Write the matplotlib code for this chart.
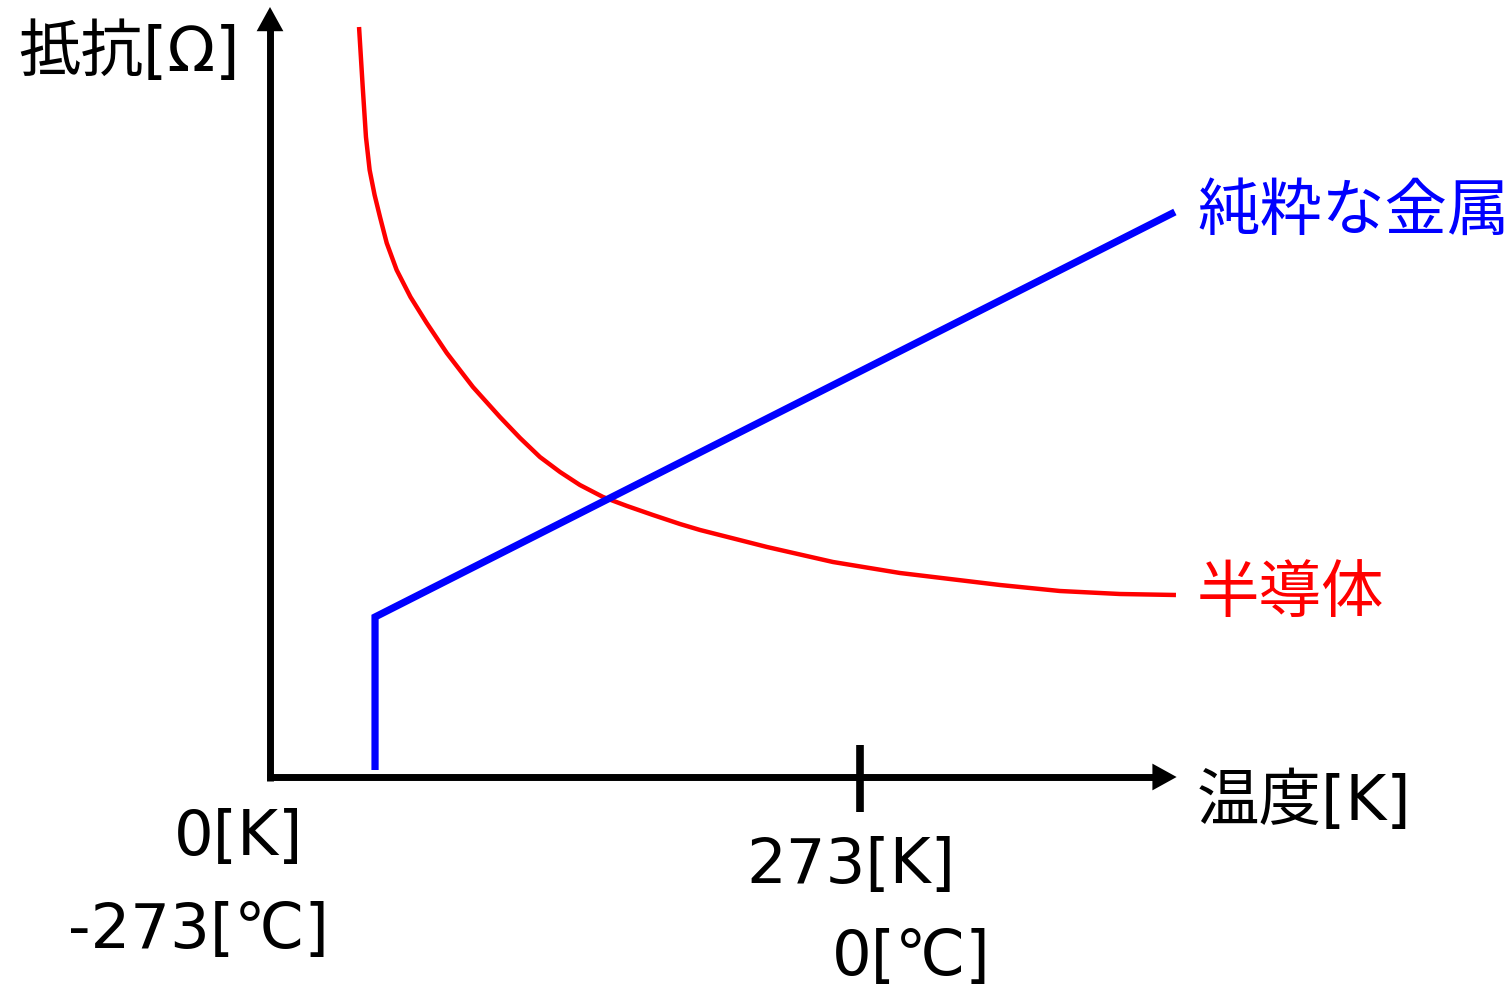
import numpy as np
import matplotlib
matplotlib.use("Agg")
import matplotlib.pyplot as plt

plt.rcParams['font.family'] = ['DejaVu Sans', 'Noto Sans CJK JP']

# 半導体 (semiconductor) resistance curve, temperature [K] vs arbitrary resistance
semi_T = [41.2, 42.9, 44.4, 46.1, 48.4, 50.9, 54.0, 58.6, 65.0, 72.5, 81.8,
          93.9, 106.4, 115.7, 124.9, 134.2, 143.4, 154.1, 165.2, 177.2, 189.7,
          199.0, 230.0, 260.5, 291.5, 337.8, 365.5, 393.3, 419.2]
semi_R = [748, 688, 638, 605, 580, 558, 532, 505, 478, 452, 422,
          388, 358, 337, 318, 303, 290, 278, 269, 260, 251,
          245, 228, 213, 202, 190, 184, 181, 180]

# 純粋な金属 (pure metal)
metal_T = [48.6, 48.6, 418.7]
metal_R = [5, 158, 563]

T_end = 419.5     # x-axis arrow tip
R_end = 768       # y-axis arrow tip
tick_T = 273

# pixel -> data helper (for label placement only)
def p2d(px, py):
    return (px - 270) * 273 / 590, 775 - py

fig = plt.figure(figsize=(15.09, 9.9), dpi=100)
ax = fig.add_axes([0, 0, 1, 1])
x0, y0 = p2d(0, 990)
x1, y1 = p2d(1509, 0)
ax.set_xlim(x0, x1)
ax.set_ylim(y0, y1)
ax.axis('off')

# axes lines + filled arrow heads
head_T = 23 * 273 / 590
head_R = 23
ax.plot([0, 0], [-5.5, R_end - head_R + 1], color='black', lw=5, solid_capstyle='butt')
ax.plot([-1.2, T_end - head_T + 0.5], [-2, -2], color='black', lw=5, solid_capstyle='butt')
head = dict(arrowstyle='-|>,head_length=1.05,head_width=0.58', lw=0,
            color='black', mutation_scale=16.6, shrinkA=0, shrinkB=0)
ax.annotate('', xy=(0, R_end), xytext=(0, R_end - 60), arrowprops=head)
ax.annotate('', xy=(T_end, -2), xytext=(T_end - 30, -2), arrowprops=head)
ax.plot([tick_T, tick_T], [30, -37], color='black', lw=5.5, solid_capstyle='butt')

ax.plot(semi_T, semi_R, color='#ff0000', lw=3.2, solid_capstyle='butt')
ax.plot(metal_T, metal_R, color='#0000ff', lw=5.2, solid_joinstyle='miter',
        solid_capstyle='butt')

fs = 45
ax.text(*p2d(18, 53), '抵抗[Ω]', fontsize=fs, ha='left', va='center')
ax.text(*p2d(1197, 213), '純粋な金属', fontsize=fs, color='#0000ff', ha='left', va='center')
ax.text(*p2d(1197, 595), '半導体', fontsize=fs, color='#ff0000', ha='left', va='center')
ax.text(*p2d(1197, 802), '温度[K]', fontsize=fs, ha='left', va='center')
ax.text(*p2d(174, 838), '0[K]', fontsize=fs, ha='left', va='center')
ax.text(*p2d(68, 931), '-273[℃]', fontsize=fs, ha='left', va='center')
ax.text(*p2d(746, 866), '273[K]', fontsize=fs, ha='left', va='center')
ax.text(*p2d(832, 958), '0[℃]', fontsize=fs, ha='left', va='center')

fig.savefig('out.png', dpi=100)
